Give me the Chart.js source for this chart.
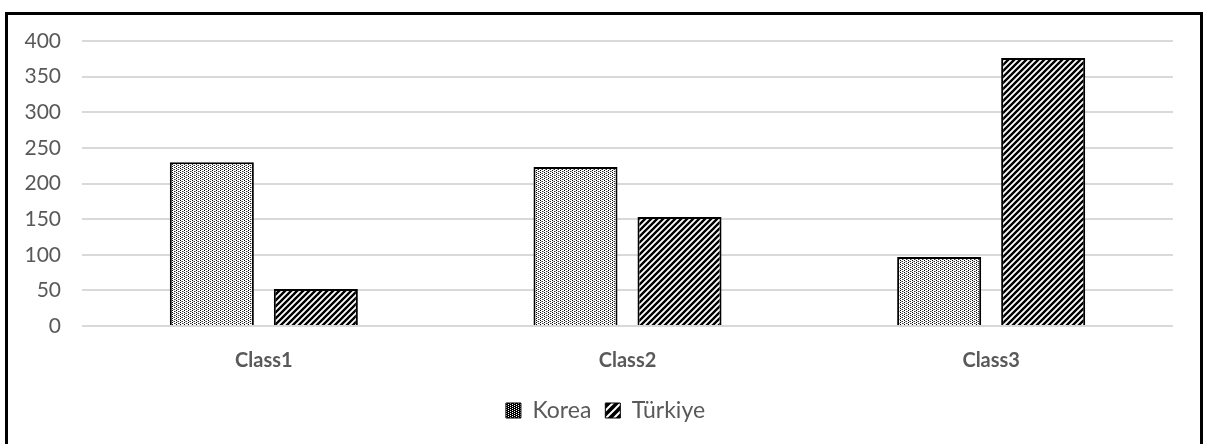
<!DOCTYPE html>
<html>
<head>
<meta charset="utf-8">
<script src="https://cdn.jsdelivr.net/npm/chart.js@4/dist/chart.umd.min.js"></script>
<style>
  html, body { margin: 0; padding: 0; background: #fff; }
  #wrap { position: relative; width: 1211px; height: 444px; overflow: hidden; }
  #frame {
    position: absolute; left: 5px; top: 12px; width: 1192px; height: 440px;
    border: 3px solid #000; border-bottom: none; pointer-events: none;
  }
  canvas { position: absolute; left: 0; top: 0; }
</style>
</head>
<body>
<div id="wrap">
  <canvas id="chart" width="1211" height="444"></canvas>
  <div id="frame"></div>
</div>
<script>
const categories = ['Class1', 'Class2', 'Class3'];
const koreaValues = [230, 223, 97];
const turkiyeValues = [52, 153, 376];
const yTicks = [0, 50, 100, 150, 200, 250, 300, 350, 400];

// dotted screen fill for Korea
function dotPattern(dark) {
  const c = document.createElement('canvas');
  c.width = 4; c.height = 4;
  const g = c.getContext('2d');
  g.fillStyle = dark ? '#000' : '#fff';
  g.fillRect(0, 0, 4, 4);
  g.fillStyle = dark ? '#fff' : '#000';
  g.fillRect(0, 0, 1, 1);
  g.fillRect(0, 2, 1, 1);
  if (!dark) g.fillStyle = '#333';
  g.fillRect(2, 1, 1, 1);
  g.fillRect(2, 3, 1, 1);
  if (!dark) {
    g.fillStyle = '#999';
    g.fillRect(1, 1, 1, 1);
    g.fillRect(3, 3, 1, 1);
  }
  return g.createPattern(c, 'repeat');
}

// "/" diagonal stripes for Türkiye
function stripePattern(s, w, fg, bg) {
  const c = document.createElement('canvas');
  c.width = s; c.height = s;
  const g = c.getContext('2d');
  g.fillStyle = bg;
  g.fillRect(0, 0, s, s);
  g.strokeStyle = fg;
  g.lineWidth = w;
  g.beginPath();
  g.moveTo(-1, s + 1); g.lineTo(s + 1, -1);
  g.moveTo(-1, 1); g.lineTo(1, -1);
  g.moveTo(s - 1, s + 1); g.lineTo(s + 1, s - 1);
  g.stroke();
  return g.createPattern(c, 'repeat');
}

const grey = '#595959';
// legend swatches are drawn darker than the bars
const legendFills = [dotPattern(true), stripePattern(8, 2, '#fff', '#000')];

// centre the legend on the whole canvas rather than the padded box
const centreLegend = {
  id: 'centreLegend',
  afterLayout(chart) {
    const lg = chart.legend;
    if (!lg) return;
    lg.left = 0;
    lg.right = chart.width;
    lg.width = chart.width;
  }
};

new Chart(document.getElementById('chart'), {
  type: 'bar',
  data: {
    labels: categories,
    datasets: [
      {
        label: 'Korea',
        data: koreaValues,
        backgroundColor: dotPattern(false),
        borderColor: '#000',
        borderWidth: 2,
        borderSkipped: 'bottom',
        categoryPercentage: 0.572,
        barPercentage: 0.808,
      },
      {
        label: 'Türkiye',
        data: turkiyeValues,
        backgroundColor: stripePattern(6, 2.4, '#000', '#fff'),
        borderColor: '#000',
        borderWidth: 2,
        borderSkipped: 'bottom',
        categoryPercentage: 0.572,
        barPercentage: 0.808,
      },
    ]
  },
  plugins: [centreLegend],
  options: {
    responsive: false,
    animation: false,
    layout: { padding: { top: 41, right: 38, left: 0, bottom: 12 } },
    plugins: {
      tooltip: { enabled: false },
      legend: {
        position: 'bottom',
        labels: {
          color: grey,
          font: { family: 'Lato', size: 23 },
          boxWidth: 15,
          boxHeight: 15,
          padding: 14,
          generateLabels(chart) {
            return Chart.defaults.plugins.legend.labels.generateLabels(chart).map((item, i) => {
              item.fillStyle = legendFills[i];
              item.lineWidth = 1;
              return item;
            });
          }
        }
      }
    },
    scales: {
      x: {
        grid: { display: false },
        border: { display: false },
        ticks: {
          color: grey,
          font: { family: 'Lato', size: 20, weight: 'bold' },
          padding: 15,
        },
        afterFit(scale) { scale.height = 59; }
      },
      y: {
        min: 0,
        max: 400,
        afterBuildTicks(scale) { scale.ticks = yTicks.map(v => ({ value: v })); },
        grid: { color: '#d9d9d9', lineWidth: 2, drawTicks: false },
        border: { display: false },
        ticks: {
          color: grey,
          font: { family: 'Lato', size: 21 },
          padding: 21,
        },
        afterFit(scale) { scale.width = 82; }
      }
    }
  }
});
</script>
</body>
</html>
